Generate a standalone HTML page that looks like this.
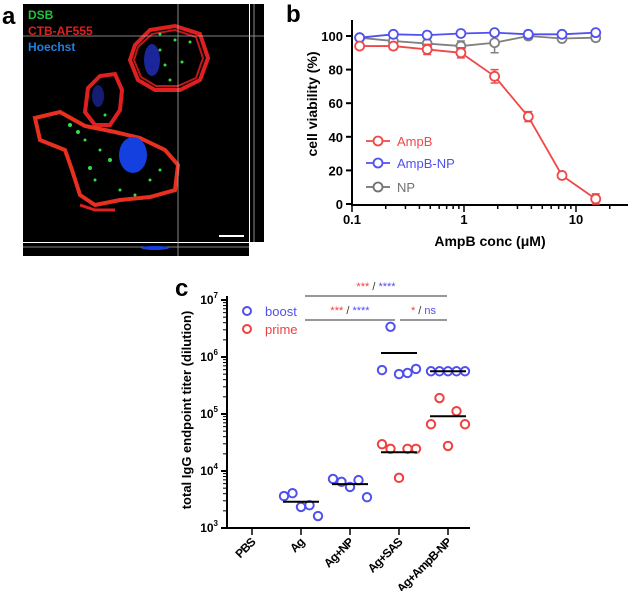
<!DOCTYPE html>
<html><head><meta charset="utf-8"><style>
body{margin:0;background:#fff;font-family:"Liberation Sans",sans-serif}
svg text{font-family:"Liberation Sans",sans-serif}
</style></head><body>
<svg id="fig" width="630" height="591" viewBox="0 0 630 591" xmlns="http://www.w3.org/2000/svg">
<g>
<text x="2" y="24" font-size="24" font-weight="bold">a</text>
<rect x="23" y="4" width="226" height="238" fill="#000"/>
<rect x="250" y="4" width="14" height="238" fill="#000"/>
<rect x="23" y="243" width="226" height="13" fill="#000"/>
<path d="M135,45 L150,30 L175,26 L200,34 L208,58 L200,80 L180,90 L155,90 L138,80 L130,60 Z" fill="none" stroke="#e02020" stroke-width="4"/>
<path d="M138,47 L152,34 L175,30 L196,37 L203,58 L196,78 L178,86 L156,86 L141,77 L134,60 Z" fill="none" stroke="#c01818" stroke-width="2"/>
<ellipse cx="152" cy="60" rx="8" ry="16" fill="#2030c0" opacity="0.8"/>
<path d="M88,88 L100,76 L115,74 L122,90 L120,110 L110,125 L95,125 L85,112 Z" fill="none" stroke="#e02020" stroke-width="4"/>
<ellipse cx="98" cy="96" rx="6" ry="11" fill="#1a2490" opacity="0.8"/>
<path d="M35,118 L60,112 L85,126 L115,132 L140,138 L165,150 L178,165 L175,190 L150,197 L120,200 L95,205 L80,195 L72,170 L65,150 L40,140 Z" fill="none" stroke="#e83020" stroke-width="4"/>
<path d="M80,205 L95,210 L115,210" fill="none" stroke="#e02020" stroke-width="3"/>
<ellipse cx="133" cy="155" rx="14" ry="18" fill="#1540e0"/>
<g fill="#30e040">
<circle cx="160" cy="34" r="1.5"/><circle cx="175" cy="40" r="1.5"/><circle cx="190" cy="42" r="1.5"/><circle cx="165" cy="65" r="1.5"/><circle cx="182" cy="62" r="1.5"/><circle cx="170" cy="80" r="1.5"/><circle cx="160" cy="50" r="1.5"/>
<circle cx="70" cy="125" r="2"/><circle cx="78" cy="132" r="2"/><circle cx="85" cy="140" r="1.5"/><circle cx="100" cy="150" r="1.5"/><circle cx="110" cy="160" r="2"/><circle cx="95" cy="180" r="1.5"/><circle cx="120" cy="190" r="1.5"/><circle cx="150" cy="180" r="1.5"/><circle cx="160" cy="170" r="1.5"/><circle cx="105" cy="115" r="1.5"/><circle cx="90" cy="168" r="2"/><circle cx="135" cy="195" r="1.5"/>
</g>
<line x1="178" y1="4" x2="178" y2="256" stroke="#aaa" stroke-width="0.8"/>
<line x1="23" y1="36" x2="264" y2="36" stroke="#aaa" stroke-width="0.8"/>
<line x1="23" y1="247" x2="249" y2="247" stroke="#aaa" stroke-width="0.8"/>
<line x1="254" y1="4" x2="254" y2="242" stroke="#aaa" stroke-width="0.8"/>
<ellipse cx="155" cy="248" rx="14" ry="2" fill="#1540e0"/>
<line x1="219" y1="236" x2="244" y2="236" stroke="#fff" stroke-width="2"/>
<text x="28" y="19" font-size="12" font-weight="bold" fill="#20c040">DSB</text>
<text x="28" y="35" font-size="12" font-weight="bold" fill="#e02020">CTB-AF555</text>
<text x="28" y="51" font-size="12" font-weight="bold" fill="#2080e0">Hoechst</text>
</g>
<text x="286" y="22" font-size="24" font-weight="bold">b</text>
<g id="pb"></g>
<text x="175" y="296" font-size="24" font-weight="bold">c</text>
<g id="pc"></g>
</svg>
<script>
const concs=[0.117,0.234,0.469,0.938,1.875,3.75,7.5,15];
const ampB=[94,94,92,90,76,52,17,3];
const ampBErr=[1.5,2,3,3,4,3,2,3];
const ampBNP=[99,101,100.5,101.5,102,101,101,102];
const ampBNPErr=[1,1,2,1,1,2,1,1];
const np=[99,97,95.5,94,96,100,98.5,99];
const npErr=[1,3,3,3,6,2,2,2];
const yTicksB=[0,20,40,60,80,100];
const xTicksB=[0.1,1,10];
const xTickLabelsB=["0.1","1","10"];

const cats=["PBS","Ag","Ag+NP","Ag+SAS","Ag+AmpB-NP"];
const boostAg=[3.56,3.61,3.37,3.40,3.21];
const boostAgNP=[3.86,3.81,3.72,3.84,3.54];
const boostSAS=[5.77,6.53,5.70,5.72,5.79];
const boostAmpBNP=[5.75,5.75,5.75,5.75,5.75];
const primeSAS=[4.47,4.39,3.88,4.39,4.39];
const primeAmpBNP=[4.82,5.28,4.44,5.05,4.82];
const boostMeans=[null,3.46,3.77,6.07,5.75];
const primeMeans=[null,null,null,4.33,4.96];
const yTicksC=[3,4,5,6,7];

const NS="http://www.w3.org/2000/svg";
function mk(p,tag,a,txt){const e=document.createElementNS(NS,tag);for(const k in a)e.setAttribute(k,a[k]);if(txt!==undefined)e.textContent=txt;p.appendChild(e);return e;}

const pb=document.getElementById('pb');
const bx=v=>352+112*Math.log10(v/0.1);
const by=v=>204-1.68*v;
let ax=mk(pb,'path',{d:'M352,20 L352,205 L628,205',fill:'none',stroke:'#000','stroke-width':2});


yTicksB.forEach(t=>{
 mk(pb,'line',{x1:346,x2:352,y1:by(t),y2:by(t),stroke:'#000','stroke-width':2});
 const l=mk(pb,'text',{x:343,y:by(t)+5,'font-size':13,'font-weight':'bold','text-anchor':'end'},String(t));
 
 
});
for(let d=0;d<3;d++)for(let m=1;m<=9;m++){const v=0.1*Math.pow(10,d)*m;if(bx(v)>628)continue;
 mk(pb,'line',{x1:bx(v),x2:bx(v),y1:205,y2:m==1?212:209,stroke:'#000','stroke-width':1.5});}
xTicksB.forEach((t,i)=>{const l=mk(pb,'text',{x:bx(t),y:224,'font-size':13,'font-weight':'bold','text-anchor':'middle'},xTickLabelsB[i]);
 
 });
let xt=mk(pb,'text',{x:490,y:246,'font-size':14,'font-weight':'bold','text-anchor':'middle'},'AmpB conc (μM)');


let yt=mk(pb,'text',{x:0,y:0,'font-size':14,'font-weight':'bold','text-anchor':'middle',transform:'translate(317,104) rotate(-90)'},'cell viability (%)');


function series(vals,errs,col,name){
 const g=mk(pb,'g',{});
 
 
 mk(g,'polyline',{points:concs.map((c,i)=>bx(c)+','+by(vals[i])).join(' '),fill:'none',stroke:col,'stroke-width':1.8});
 concs.forEach((c,i)=>{const x=bx(c),y=by(vals[i]),e=errs[i]*1.68;
  mk(g,'path',{d:`M${x},${y-e}V${y+e}M${x-4},${y-e}H${x+4}M${x-4},${y+e}H${x+4}`,stroke:col,'stroke-width':1.5,fill:'none'});
  const p=mk(g,'circle',{cx:x,cy:y,r:4.5,fill:'#fff',stroke:col,'stroke-width':1.8});
  
  });
}
series(np,npErr,'#808080','np');
series(ampBNP,ampBNPErr,'#5050f0','ampb-np');
series(ampB,ampBErr,'#f04848','ampb');
[['AmpB','#f04848',141],['AmpB-NP','#5050f0',163],['NP','#707070',187]].forEach(([n,c,y])=>{
 const g=mk(pb,'g',{});
 
 
 mk(g,'line',{x1:366,x2:390,y1:y,y2:y,stroke:c,'stroke-width':1.8});
 mk(g,'circle',{cx:378,cy:y,r:4.5,fill:'#fff',stroke:c,'stroke-width':1.8});
 mk(g,'text',{x:397,y:y+5,'font-size':13,fill:c},n);
});

const pc=document.getElementById('pc');
const cy=v=>528-57*(v-3);
const cx=i=>252+49*i;
let ac=mk(pc,'path',{d:'M227,296 L227,528 L470,528',fill:'none',stroke:'#000','stroke-width':2});


yTicksC.forEach(t=>{
 mk(pc,'line',{x1:221,x2:227,y1:cy(t),y2:cy(t),stroke:'#000','stroke-width':2});
 const l=mk(pc,'text',{x:218,y:cy(t)+4,'font-size':12,'font-weight':'bold','text-anchor':'end'});
 l.innerHTML='10<tspan dy="-6" font-size="8">'+t+'</tspan>';
 
 
 if(t<7)for(let m=2;m<=9;m++){const y=cy(t+Math.log10(m));mk(pc,'line',{x1:223,x2:227,y1:y,y2:y,stroke:'#000','stroke-width':1});}
});
cats.forEach((c,i)=>{
 mk(pc,'line',{x1:cx(i),x2:cx(i),y1:528,y2:535,stroke:'#000','stroke-width':1.5});
 const l=mk(pc,'text',{x:0,y:0,'font-size':12,'font-weight':'bold','text-anchor':'end','letter-spacing':'-0.8',transform:`translate(${cx(i)+4},${543}) rotate(-45)`},c);
 
 
});
let ct=mk(pc,'text',{x:0,y:0,'font-size':13,'font-weight':'bold','text-anchor':'middle',transform:'translate(191,410) rotate(-90)'},'total IgG endpoint titer (dilution)');


function dots(vals,ci,col,name){
 vals.forEach((v,i)=>{const x=cx(ci)+(i-(vals.length-1)/2)*8.5;
  const p=mk(pc,'circle',{cx:x,cy:cy(v),r:4.2,fill:'none',stroke:col,'stroke-width':2});
  
  });
}
dots(boostAg,1,'#5050f0','boost-ag');
dots(boostAgNP,2,'#5050f0','boost-ag-np');
dots(boostSAS,3,'#5050f0','boost-ag-sas');
dots(boostAmpBNP,4,'#5050f0','boost-ag-ampb-np');
dots(primeSAS,3,'#f04040','prime-ag-sas');
dots(primeAmpBNP,4,'#f04040','prime-ag-ampb-np');
[boostMeans,primeMeans].forEach(arr=>arr.forEach((m,i)=>{if(m===null)return;
 const l=mk(pc,'line',{x1:cx(i)-18,x2:cx(i)+18,y1:cy(m),y2:cy(m),stroke:'#000','stroke-width':2});
 
 }));
[['boost','#5050f0',311],['prime','#f04040',329]].forEach(([n,c,y])=>{
 const g=mk(pc,'g',{});
 
 
 mk(g,'circle',{cx:247,cy:y,r:4,fill:'none',stroke:c,'stroke-width':2});
 mk(g,'text',{x:265,y:y+5,'font-size':13,fill:c},n);
});
function sig(x1,x2,y,parts){
 const g=mk(pc,'g',{});
 
 
 mk(g,'line',{x1:x1,x2:x2,y1:y,y2:y,stroke:'#777','stroke-width':1.5});
 const t=mk(g,'text',{x:(x1+x2)/2,y:y-6,'font-size':11,'text-anchor':'middle'});
 parts.forEach(([s,c])=>{const sp=document.createElementNS(NS,'tspan');sp.setAttribute('fill',c);sp.textContent=s;t.appendChild(sp);});
}
sig(305,447,296,[['***','#f04040'],[' / ','#333'],['****','#5050f0']]);
sig(305,395,320,[['***','#f04040'],[' / ','#333'],['****','#5050f0']]);
sig(400,447,320,[['*','#f04040'],[' / ','#333'],['ns','#5050f0']]);
</script>
</body></html>
